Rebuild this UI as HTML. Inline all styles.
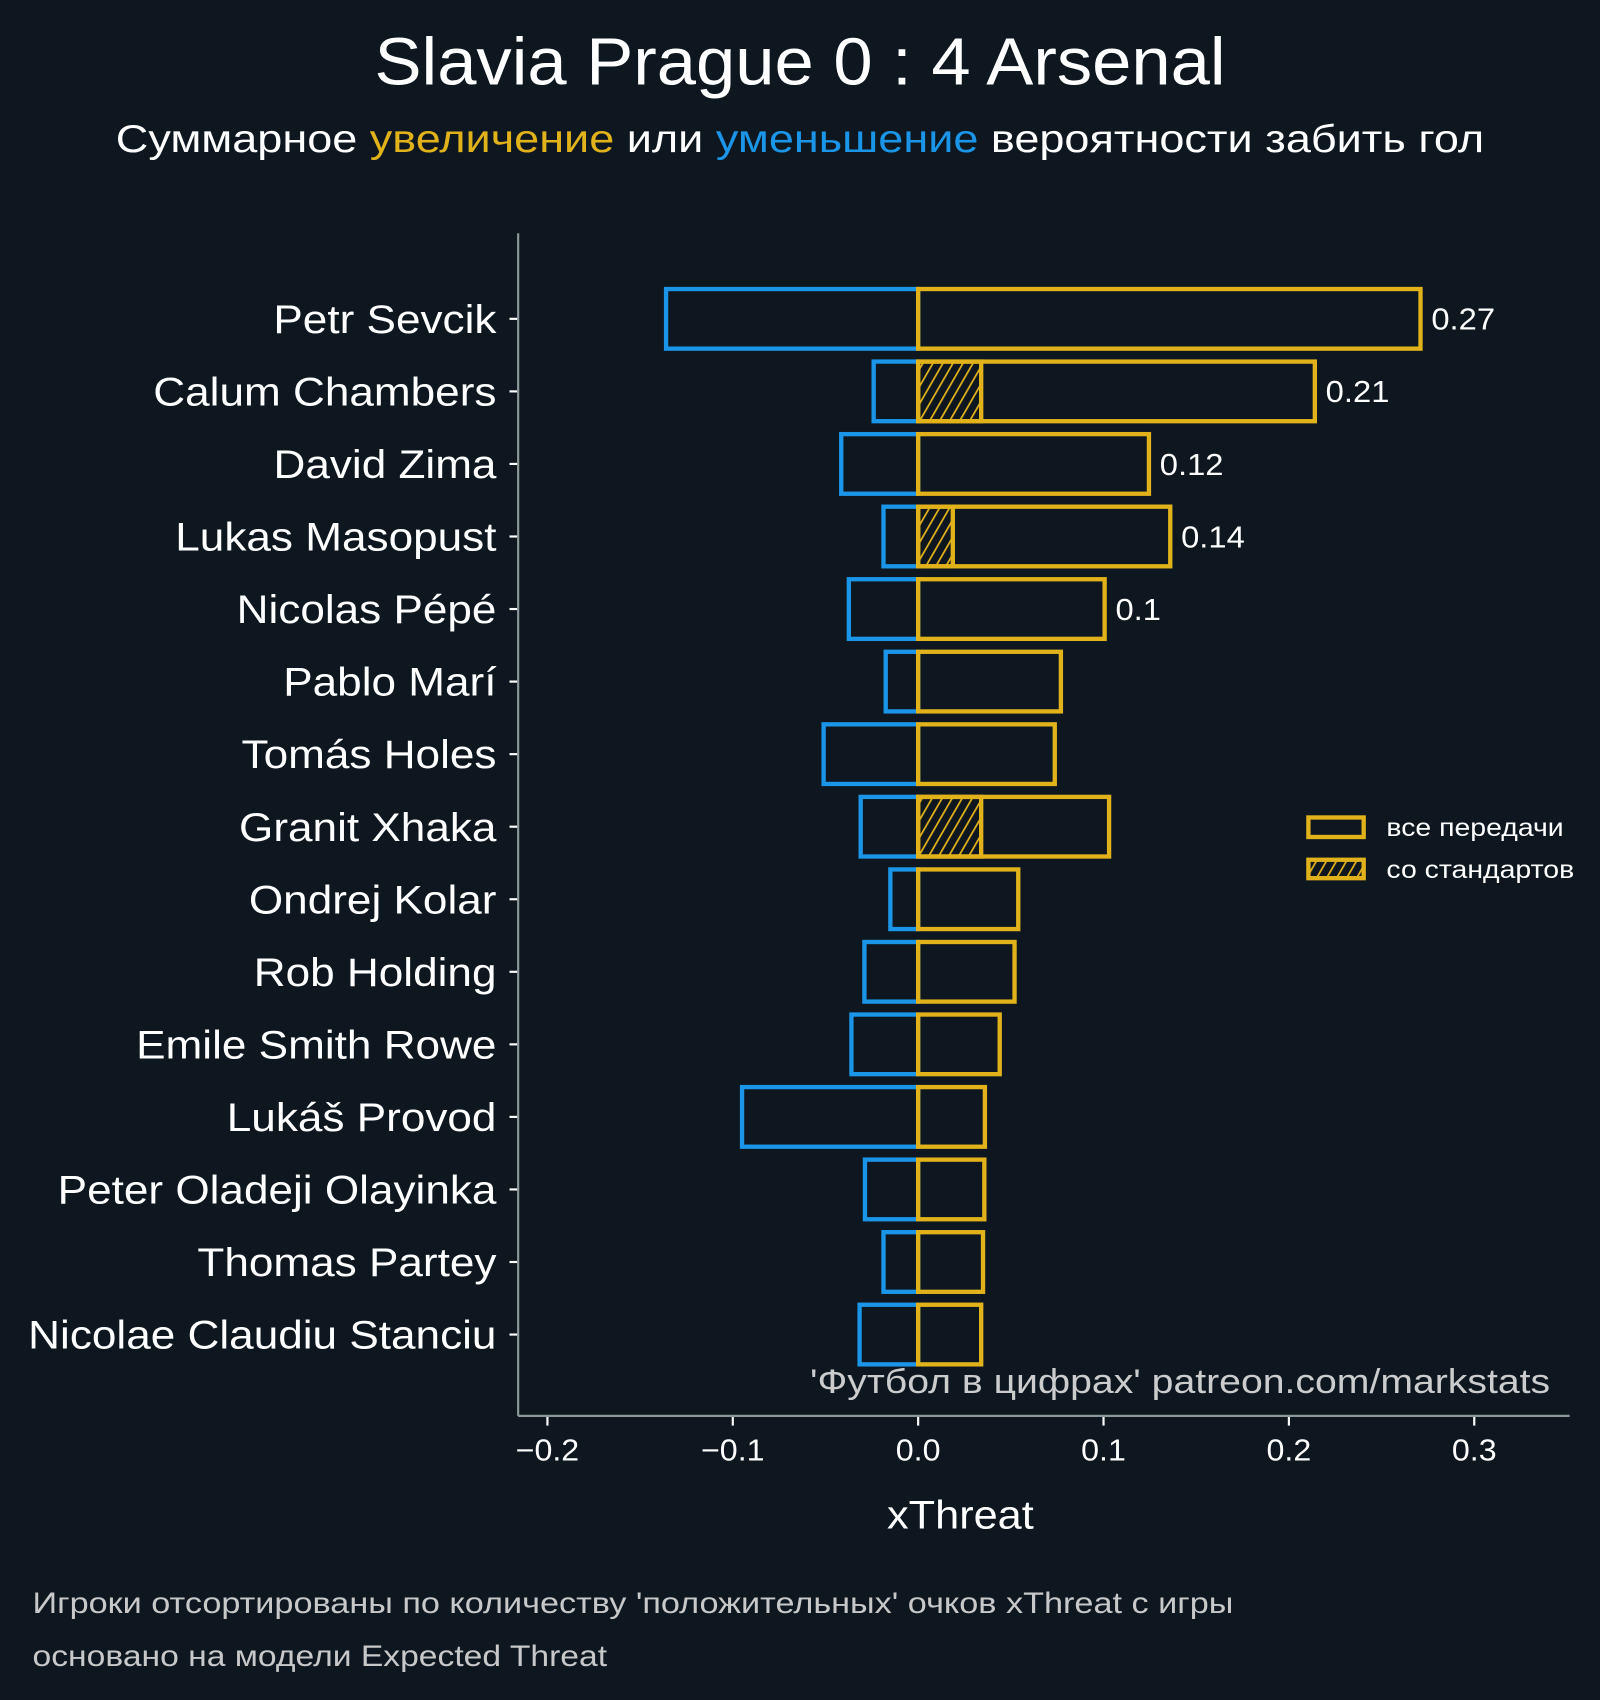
<!DOCTYPE html>
<html><head><meta charset="utf-8">
<style>
html,body{margin:0;padding:0;background:#0e1720;}
svg{display:block;}
text{font-family:"Liberation Sans","DejaVu Sans",sans-serif;}
</style></head>
<body>
<svg id="chart" width="1600" height="1700" viewBox="0 0 1476 1568" xmlns="http://www.w3.org/2000/svg">
<defs>
<pattern id="hatch" patternUnits="userSpaceOnUse" width="8" height="8" patternTransform="rotate(30)">
<rect width="8" height="8" fill="#0e1720"/>
<line x1="0" y1="0" x2="0" y2="8" stroke="#e1b21a" stroke-width="3.2"/>
</pattern>
</defs>
<rect width="1476" height="1568" fill="#0e1720"/>
<text x="738" y="78" text-anchor="middle" fill="#ffffff" font-size="62" data-k="1.05">Slavia Prague 0 : 4 Arsenal</text>
<text x="738" y="140" text-anchor="middle" fill="#ffffff" font-size="36" data-k="1.154">Суммарное <tspan fill="#e1b21a">увеличение</tspan> или <tspan fill="#1a95e8">уменьшение</tspan> вероятности забить гол</text>
<g id="plot"></g>
<line x1="478" y1="215" x2="478" y2="1306" stroke="#8a9a98" stroke-width="2"/>
<line x1="478" y1="1306" x2="1448" y2="1306" stroke="#8a9a98" stroke-width="2"/>
<text x="886" y="1410" text-anchor="middle" fill="#ffffff" font-size="37" data-k="1.08">xThreat</text>
<text x="1430" y="1285" text-anchor="end" fill="#cccccc" font-size="32" data-k="1.13">'Футбол в цифрах' patreon.com/markstats</text>
<g>
<rect x="1207" y="754" width="51" height="18" fill="none" stroke="#e1b21a" stroke-width="4"/>
<text x="1279" y="771" fill="#ffffff" font-size="23" data-k="1.14">все передачи</text>
<rect x="1207" y="793" width="51" height="17" fill="url(#hatch)" stroke="#e1b21a" stroke-width="4"/>
<text x="1279" y="810" fill="#ffffff" font-size="23" data-k="1.14">со стандартов</text>
</g>
<text x="30" y="1488" fill="#c8c8c8" font-size="27" data-k="1.17">Игроки отсортированы по количеству 'положительных' очков xThreat с игры</text>
<text x="30" y="1537" fill="#c8c8c8" font-size="27" data-k="1.15">основано на модели Expected Threat</text>
</svg>
<script>
const players = ["Petr Sevcik","Calum Chambers","David Zima","Lukas Masopust","Nicolas Pépé","Pablo Marí","Tomás Holes","Granit Xhaka","Ondrej Kolar","Rob Holding","Emile Smith Rowe","Lukáš Provod","Peter Oladeji Olayinka","Thomas Partey","Nicolae Claudiu Stanciu"];
const negValues = [-0.136,-0.024,-0.0415,-0.0187,-0.0374,-0.0175,-0.051,-0.031,-0.015,-0.029,-0.036,-0.095,-0.0287,-0.0187,-0.0316];
const posValues = [0.271,0.214,0.1245,0.136,0.1006,0.077,0.0737,0.103,0.054,0.052,0.044,0.036,0.0357,0.035,0.034];
const setPieceValues = [0,0.034,0,0.0187,0,0,0,0.034,0,0,0,0,0,0,0];
const valueLabels = ["0.27","0.21","0.12","0.14","0.1","","","","","","","","","",""];
const xTicks = [-0.2,-0.1,0.0,0.1,0.2,0.3];
const xTickLabels = ["\u22120.2","\u22120.1","0.0","0.1","0.2","0.3"];

const NS = "http://www.w3.org/2000/svg";
const plot = document.getElementById("plot");
function xScale(v){ return 847 + v * 1710; }
function yScale(i){ return 294 + i * (1231 - 294) / (players.length - 1); }
function mk(tag, attrs, parent){
  const e = document.createElementNS(NS, tag);
  for (const k in attrs) e.setAttribute(k, attrs[k]);
  (parent || plot).appendChild(e);
  return e;
}
const H = 27.5;
players.forEach((p, i) => {
  const y = yScale(i);
  const x0 = xScale(0);
  const nb = mk("rect", {x: xScale(negValues[i]), y: y - H, width: x0 - xScale(negValues[i]), height: 2*H, fill: "none", stroke: "#1a95e8", "stroke-width": 4});
  
  
  if (setPieceValues[i] > 0) {
    const hb = mk("rect", {x: x0, y: y - H, width: xScale(setPieceValues[i]) - x0, height: 2*H, fill: "url(#hatch)", stroke: "#e1b21a", "stroke-width": 4});
    
    
  }
  const pb = mk("rect", {x: x0, y: y - H, width: xScale(posValues[i]) - x0, height: 2*H, fill: "none", stroke: "#e1b21a", "stroke-width": 4});
  
  
  if (valueLabels[i]) {
    const vl = mk("text", {x: xScale(posValues[i]) + 10, y: y + 10, fill: "#ffffff", "font-size": 28, "data-k": 1.08});
    vl.textContent = valueLabels[i];
    
    
  }
  const tk = mk("line", {x1: 470, x2: 478, y1: y, y2: y, stroke: "#ffffff", "stroke-width": 2});
  
  
  const lb = mk("text", {x: 458, y: y + 13, fill: "#ffffff", "font-size": 37, "text-anchor": "end", "data-k": 1.10});
  lb.textContent = p;
  
  
});
xTicks.forEach((t, i) => {
  const x = xScale(t);
  const tk = mk("line", {x1: x, x2: x, y1: 1306, y2: 1315, stroke: "#ffffff", "stroke-width": 2});
  
  
  const lb = mk("text", {x: x, y: 1347, fill: "#ffffff", "font-size": 28, "text-anchor": "middle", "data-k": 1.06});
  lb.textContent = xTickLabels[i];
  
  
});
document.querySelectorAll("text[data-k]").forEach(t => {
  const k = parseFloat(t.getAttribute("data-k"));
  const w = t.getComputedTextLength();
  t.setAttribute("textLength", (w * k).toFixed(1));
  t.setAttribute("lengthAdjust", "spacingAndGlyphs");
});
</script>
</body></html>
